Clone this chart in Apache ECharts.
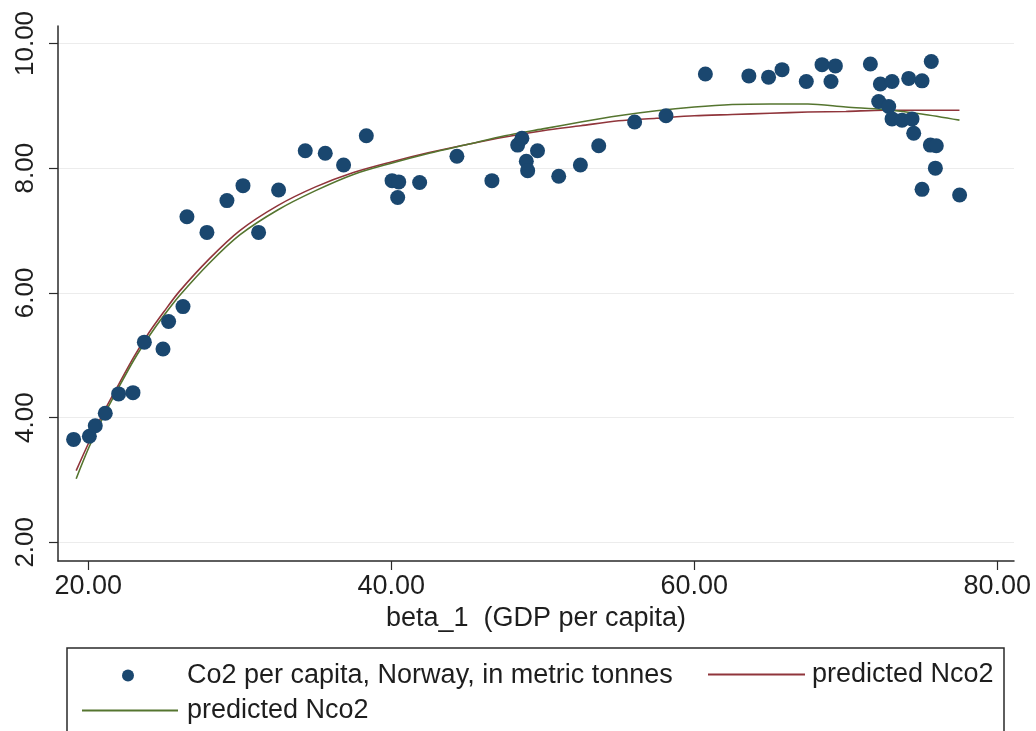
<!DOCTYPE html>
<html>
<head>
<meta charset="utf-8">
<script src="https://cdn.jsdelivr.net/npm/echarts@6/dist/echarts.min.js"></script>
<style>
  html, body { margin: 0; padding: 0; background: #fff; }
  #chart { width: 1036px; height: 731px; }
</style>
</head>
<body>
<div id="chart"></div>
<script>
// GDP per capita (x) vs CO2 per capita (y)
const gdp = [19.03, 20.07, 20.46, 21.12, 22.0, 22.95, 23.7, 24.93, 25.3, 26.25,
  26.51, 27.83, 29.15, 30.21, 31.24, 32.56, 34.32, 35.64, 36.85, 38.35,
  40.05, 40.49, 40.42, 41.87, 44.33, 46.64, 48.34, 48.62, 49.65, 48.91,
  49.0, 51.05, 52.48, 53.69, 56.06, 58.13, 60.73, 63.6, 64.9, 65.79,
  67.39, 68.43, 69.31, 69.02, 71.62, 72.28, 73.05, 74.15, 75.03, 75.64,
  72.17, 72.83, 73.05, 73.71, 74.37, 74.48, 75.58, 75.97, 75.91, 75.03, 77.51];
const co2 = [3.65, 3.70, 3.87, 4.07, 4.38, 4.40, 5.21, 5.10, 5.54, 5.78,
  7.22, 6.97, 7.48, 7.72, 6.97, 7.65, 8.28, 8.24, 8.05, 8.52,
  7.80, 7.78, 7.53, 7.77, 8.19, 7.80, 8.37, 8.48, 8.28, 8.11,
  7.96, 7.87, 8.05, 8.36, 8.74, 8.84, 9.51, 9.48, 9.46, 9.58,
  9.39, 9.66, 9.64, 9.39, 9.67, 9.35, 9.39, 9.44, 9.40, 9.71,
  9.07, 8.99, 8.79, 8.77, 8.79, 8.56, 8.37, 8.36, 8.00, 7.66, 7.57];

// fitted curves
const fitX = [19.2, 20, 21, 22, 23, 24, 25, 26, 28, 30, 32.5, 35, 37.5, 40, 42.5,
  45, 47.5, 50, 52.5, 55, 57.5, 60, 62.5, 65, 67.5, 70, 72.5, 75, 77.5];
const fitRed = [3.15, 3.58, 4.08, 4.53, 4.97, 5.36, 5.70, 6.02, 6.55, 7.00, 7.40,
  7.70, 7.93, 8.10, 8.25, 8.38, 8.50, 8.60, 8.68, 8.76, 8.80, 8.84, 8.86, 8.88,
  8.90, 8.91, 8.93, 8.93, 8.93];
const fitGreen = [3.02, 3.50, 4.02, 4.48, 4.92, 5.30, 5.64, 5.95, 6.48, 6.93, 7.33,
  7.64, 7.90, 8.08, 8.24, 8.38, 8.52, 8.63, 8.74, 8.84, 8.92, 8.98, 9.02, 9.03,
  9.03, 8.98, 8.94, 8.87, 8.77];

const xTicks = [20, 40, 60, 80];
const yTicks = [2, 4, 6, 8, 10];

const chart = echarts.init(document.getElementById('chart'));

const font = 'Liberation Sans, Arial, sans-serif';
const navy = '#1a476f';
const maroon = '#90353b';
const forest = '#55752f';
const ink = '#1e1e1e';

function legendText(pad) {
  return { fontFamily: font, fontSize: 27, color: ink, padding: [0, 0, 0, pad] };
}

chart.setOption({
  backgroundColor: '#fff',
  animation: false,
  grid: { left: 58, right: 22, top: 26, bottom: 170 },
  xAxis: {
    type: 'value',
    min: 18,
    max: 81.1,
    name: 'beta_1  (GDP per capita)',
    nameLocation: 'middle',
    nameGap: 41,
    nameTextStyle: { fontFamily: font, fontSize: 27, color: ink },
    axisLine: { lineStyle: { color: '#2a2a2a', width: 1.5 } },
    axisTick: { show: true, length: 9, customValues: xTicks, lineStyle: { color: '#2a2a2a', width: 1.2 } },
    axisLabel: {
      customValues: xTicks, margin: 12,
      fontFamily: font, fontSize: 27, color: ink,
      formatter: v => v.toFixed(2)
    },
    splitLine: { show: false }
  },
  yAxis: {
    type: 'value',
    min: 1.7,
    max: 10.28,
    axisLine: { show: true, lineStyle: { color: '#2a2a2a', width: 1.5 } },
    axisTick: { show: true, length: 9, customValues: yTicks, lineStyle: { color: '#2a2a2a', width: 1.2 } },
    axisLabel: {
      customValues: yTicks, rotate: 90, margin: 19,
      fontFamily: font, fontSize: 26, color: ink,
      formatter: v => v.toFixed(2)
    },
    splitLine: { show: true, lineStyle: { color: '#ececec', width: 1 } }
  },
  legend: [
    {
      data: ['Co2 per capita, Norway, in metric tonnes'],
      left: 117, top: 657, itemWidth: 12, itemHeight: 12, icon: 'circle',
      textStyle: legendText(48)
    },
    {
      data: ['fitRed'],
      left: 703, top: 656, itemWidth: 97, itemHeight: 2, icon: 'rect',
      formatter: () => 'predicted Nco2',
      textStyle: legendText(2)
    },
    {
      data: ['fitGreen'],
      left: 77, top: 692, itemWidth: 96, itemHeight: 2, icon: 'rect',
      formatter: () => 'predicted Nco2',
      textStyle: legendText(4)
    }
  ],
  graphic: [{
    type: 'rect',
    shape: { x: 67, y: 648, width: 937, height: 120 },
    style: { fill: 'none', stroke: '#2a2a2a', lineWidth: 1.5 },
    silent: true
  }],
  series: [
    {
      name: 'Co2 per capita, Norway, in metric tonnes',
      type: 'scatter',
      symbolSize: 15,
      itemStyle: { color: navy, opacity: 1 },
      data: gdp.map((x, i) => [x, co2[i]]),
      z: 3
    },
    {
      name: 'fitRed',
      type: 'line',
      smooth: 0.3,
      showSymbol: false,
      symbol: 'none',
      lineStyle: { color: maroon, width: 1.6 },
      itemStyle: { color: maroon },
      data: fitX.map((x, i) => [x, fitRed[i]]),
      z: 2
    },
    {
      name: 'fitGreen',
      type: 'line',
      smooth: 0.3,
      showSymbol: false,
      symbol: 'none',
      lineStyle: { color: forest, width: 1.6 },
      itemStyle: { color: forest },
      data: fitX.map((x, i) => [x, fitGreen[i]]),
      z: 2
    }
  ]
});
</script>
</body>
</html>
